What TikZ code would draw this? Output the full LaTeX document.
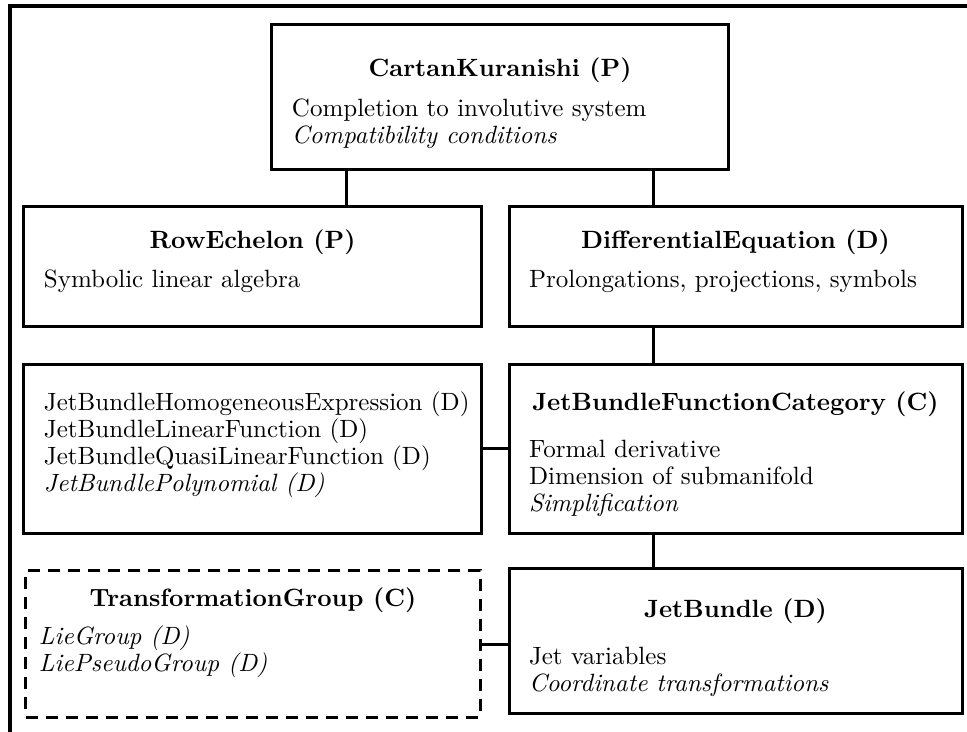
\documentclass[tikz,border=0pt]{standalone}
\usetikzlibrary{calc}
\begin{document}
\begin{tikzpicture}[
    x=0.4pt, y=-0.4pt,
    box/.style={rectangle, draw, line width=1.2pt, inner sep=0pt},
    leftbox/.style={box, minimum width=182.8pt},
    rightbox/.style={box, minimum width=181.2pt},
    optbox/.style={box, dash pattern=on 4.8pt off 3.2pt, minimum width=181.6pt},
    title/.style={anchor=base, font=\bfseries},
    % base anchor of a multi-line body is its last line
    body/.style={anchor=base west, align=left, inner sep=0pt, font={\fontsize{10}{10.8}\selectfont}},
    link/.style={line width=1.2pt},
    frame/.style={line width=1.6pt}
]
    \useasboundingbox (0,0) rectangle (967,732);

    % Outer frame
    \draw[frame] (10,745) -- (10,6) -- (980,6);

    % Packages
    \node (ck) [box, minimum width=182.4pt, minimum height=58pt] at (500,97.5) {};
    \node (re) [leftbox, minimum height=48pt] at (252.5,267) {};
    \node (de) [rightbox, minimum height=48pt] at (735.5,267) {};
    \node (lst) [leftbox, minimum height=67.2pt] at (252.5,449) {};
    \node (jbfc) [rightbox, minimum height=67.2pt] at (735.5,449) {};
    \node (tg) [optbox, minimum height=58.4pt] at (253,644) {};
    \node (jb) [rightbox, minimum height=57.6pt] at (735.5,641) {};

    % Titles
    \node (cktitle) [title] at ($(ck.north)+(0,53)$) {CartanKuranishi (P)};
    \node (retitle) [title] at ($(re.north)+(0,43)$) {RowEchelon (P)};
    \node (detitle) [title] at ($(de.north)+(0,43)$) {DifferentialEquation (D)};
    \node (jbfctitle) [title] at ($(jbfc.north)+(0,47)$) {JetBundleFunctionCategory (C)};
    \node (tgtitle) [title] at ($(tg.north)+(0,37)$) {TransformationGroup (C)};
    \node (jbtitle) [title] at ($(jb.north)+(0,50)$) {JetBundle (D)};

    % Contents
    \node (ckbody) [body] at ($(ck.north west)+(21,120)$)
        {Completion to involutive system\\ \textit{Compatibility conditions}};
    \node (rebody) [body] at ($(re.north west)+(21,82)$) {Symbolic linear algebra};
    \node (debody) [body] at ($(de.north west)+(21,82)$) {Prolongations, projections, symbols};
    \node (lstbody) [body] at ($(lst.north west)+(21,128)$)
        {JetBundleHomogeneousExpression (D)\\ JetBundleLinearFunction (D)\\
         JetBundleQuasiLinearFunction (D)\\ \textit{JetBundlePolynomial (D)}};
    \node (jbfcbody) [body] at ($(jbfc.north west)+(21,148)$)
        {Formal derivative\\ Dimension of submanifold\\ \textit{Simplification}};
    \node (tgbody) [body] at ($(tg.north west)+(14,102)$)
        {\textit{LieGroup (D)}\\ \textit{LiePseudoGroup (D)}};
    \node (jbbody) [body] at ($(jb.north west)+(21,124)$)
        {Jet variables\\ \textit{Coordinate transformations}};

    % Links
    \coordinate (ckl) at ($(ck.south west)!1/6!(ck.south east)$);
    \coordinate (ckr) at ($(ck.south west)!5/6!(ck.south east)$);
    \draw[link] (ckl) -- (ckl |- re.north);
    \draw[link] (ckr) -- (ckr |- de.north);
    \draw[link] (de.south -| ckr) -- (jbfc.north -| ckr);
    \draw[link] (jbfc.south -| ckr) -- (jb.north -| ckr);
    \draw[link] (lst.east) -- (jbfc.west);
    \draw[link] (tg.east) -- (tg.east -| jb.west);
\end{tikzpicture}
\end{document}
